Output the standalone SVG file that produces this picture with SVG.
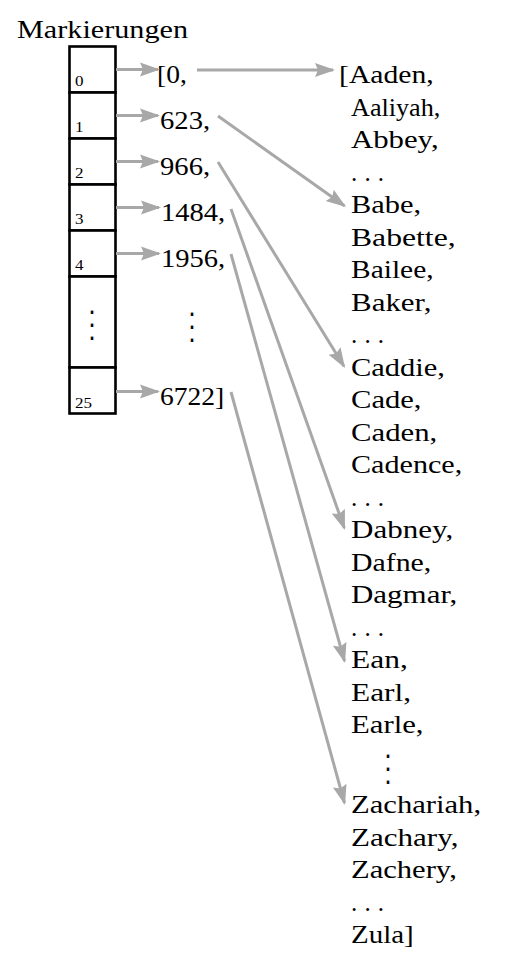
<svg xmlns="http://www.w3.org/2000/svg" width="509" height="966" viewBox="0 0 509 966">
<style>
.t{font-family:"Liberation Serif","DejaVu Serif",serif;font-size:25px;fill:#000}
.s{font-family:"Liberation Serif","DejaVu Serif",serif;font-size:14.5px;fill:#000}
.vd{font-family:"DejaVu Serif","DejaVu Sans",serif;font-size:38px;fill:#000;stroke:#fff;stroke-width:1.2;text-anchor:middle}
.cell{fill:#fff;stroke:#000;stroke-width:2.6}
.arr{stroke:#a8a8a8;stroke-width:3;fill:none;marker-end:url(#ah)}
</style>
<defs>
<marker id="ah" markerUnits="userSpaceOnUse" markerWidth="22" markerHeight="16" viewBox="0 -8 22 16" refX="18" refY="0" orient="auto">
<path d="M0,-7 L20,0 L0,7 L3,0 Z" fill="#a8a8a8"/>
</marker>
</defs>
<rect width="509" height="966" fill="#fff"/>
<g id="title"><text class="t" x="17" y="38" textLength="171" lengthAdjust="spacingAndGlyphs">Markierungen</text></g>
<g id="array">
<g id="cell0"><rect class="cell" x="69.5" y="46.5" width="46" height="46"/><text class="s" x="75" y="85.5" textLength="8.5" lengthAdjust="spacingAndGlyphs">0</text></g>
<g id="cell1"><rect class="cell" x="69.5" y="92.5" width="46" height="46"/><text class="s" x="75" y="131.5" textLength="8.5" lengthAdjust="spacingAndGlyphs">1</text></g>
<g id="cell2"><rect class="cell" x="69.5" y="138.5" width="46" height="46"/><text class="s" x="75" y="177.5" textLength="8.5" lengthAdjust="spacingAndGlyphs">2</text></g>
<g id="cell3"><rect class="cell" x="69.5" y="184.5" width="46" height="46"/><text class="s" x="75" y="223.5" textLength="8.5" lengthAdjust="spacingAndGlyphs">3</text></g>
<g id="cell4"><rect class="cell" x="69.5" y="230.5" width="46" height="46"/><text class="s" x="75" y="269.5" textLength="8.5" lengthAdjust="spacingAndGlyphs">4</text></g>
<g id="cellDots"><rect class="cell" x="69.5" y="276.5" width="46" height="91"/><text class="vd" x="92" y="337">⋮</text></g>
<g id="cell25"><rect class="cell" x="69.5" y="367.5" width="46" height="46"/><text class="s" x="75" y="407.5" textLength="17" lengthAdjust="spacingAndGlyphs">25</text></g>
</g>
<g id="offsets">
<g id="n0"><text class="t" x="157" y="82.5" textLength="29.8" lengthAdjust="spacingAndGlyphs">[0,</text></g>
<g id="n1"><text class="t" x="160" y="128.5" textLength="50.1" lengthAdjust="spacingAndGlyphs">623,</text></g>
<g id="n2"><text class="t" x="160" y="174.5" textLength="50.1" lengthAdjust="spacingAndGlyphs">966,</text></g>
<g id="n3"><text class="t" x="161" y="220.5" textLength="64.2" lengthAdjust="spacingAndGlyphs">1484,</text></g>
<g id="n4"><text class="t" x="161" y="266.5" textLength="64.2" lengthAdjust="spacingAndGlyphs">1956,</text></g>
<g id="nDots"><text class="vd" x="192" y="338.5">⋮</text></g>
<g id="n25"><text class="t" x="160" y="404.5" textLength="64.2" lengthAdjust="spacingAndGlyphs">6722]</text></g>
</g>
<g id="names">
<text class="t" x="339" y="83" textLength="94.8" lengthAdjust="spacingAndGlyphs">[Aaden,</text>
<text class="t" x="351" y="115.5" textLength="89.3" lengthAdjust="spacingAndGlyphs">Aaliyah,</text>
<text class="t" x="351" y="148" textLength="87.7" lengthAdjust="spacingAndGlyphs">Abbey,</text>
<text class="t" x="351" y="180.5" textLength="33" lengthAdjust="spacing">...</text>
<text class="t" x="351" y="213" textLength="70.1" lengthAdjust="spacingAndGlyphs">Babe,</text>
<text class="t" x="351" y="245.5" textLength="104.6" lengthAdjust="spacingAndGlyphs">Babette,</text>
<text class="t" x="351" y="278" textLength="82.6" lengthAdjust="spacingAndGlyphs">Bailee,</text>
<text class="t" x="351" y="310.5" textLength="80.4" lengthAdjust="spacingAndGlyphs">Baker,</text>
<text class="t" x="351" y="343" textLength="33" lengthAdjust="spacing">...</text>
<text class="t" x="351" y="375.5" textLength="94" lengthAdjust="spacingAndGlyphs">Caddie,</text>
<text class="t" x="351" y="408" textLength="70.5" lengthAdjust="spacingAndGlyphs">Cade,</text>
<text class="t" x="351" y="440.5" textLength="86.2" lengthAdjust="spacingAndGlyphs">Caden,</text>
<text class="t" x="351" y="473" textLength="111.2" lengthAdjust="spacingAndGlyphs">Cadence,</text>
<text class="t" x="351" y="505.5" textLength="33" lengthAdjust="spacing">...</text>
<text class="t" x="351" y="538" textLength="102.2" lengthAdjust="spacingAndGlyphs">Dabney,</text>
<text class="t" x="351" y="570.5" textLength="80.3" lengthAdjust="spacingAndGlyphs">Dafne,</text>
<text class="t" x="351" y="603" textLength="106.2" lengthAdjust="spacingAndGlyphs">Dagmar,</text>
<text class="t" x="351" y="635.5" textLength="33" lengthAdjust="spacing">...</text>
<text class="t" x="351" y="668" textLength="56.8" lengthAdjust="spacingAndGlyphs">Ean,</text>
<text class="t" x="351" y="700.5" textLength="60" lengthAdjust="spacingAndGlyphs">Earl,</text>
<text class="t" x="351" y="733" textLength="72.5" lengthAdjust="spacingAndGlyphs">Earle,</text>
<text class="vd" x="388" y="780.5">⋮</text>
<text class="t" x="351" y="813" textLength="130.1" lengthAdjust="spacingAndGlyphs">Zachariah,</text>
<text class="t" x="351" y="845.5" textLength="107.4" lengthAdjust="spacingAndGlyphs">Zachary,</text>
<text class="t" x="351" y="878" textLength="105.8" lengthAdjust="spacingAndGlyphs">Zachery,</text>
<text class="t" x="351" y="910.5" textLength="33" lengthAdjust="spacing">...</text>
<text class="t" x="351" y="943" textLength="62.7" lengthAdjust="spacingAndGlyphs">Zula]</text>
</g>
<g id="connectors">
<path class="arr" d="M116,69.5 L158,69.5"/>
<path class="arr" d="M116,115.5 L158,115.5"/>
<path class="arr" d="M116,161.5 L158,161.5"/>
<path class="arr" d="M116,207.5 L159,207.5"/>
<path class="arr" d="M116,253.5 L159,253.5"/>
<path class="arr" d="M116,391.5 L158,391.5"/>
<path class="arr" d="M197,70 L333,70"/>
<path class="arr" d="M218,116 L344.4,205.8"/>
<path class="arr" d="M218,162 L344,366.3"/>
<path class="arr" d="M231,209 L344.3,528.1"/>
<path class="arr" d="M231,254 L344.5,661.1"/>
<path class="arr" d="M231,392 L344.5,803"/>
</g>
</svg>
